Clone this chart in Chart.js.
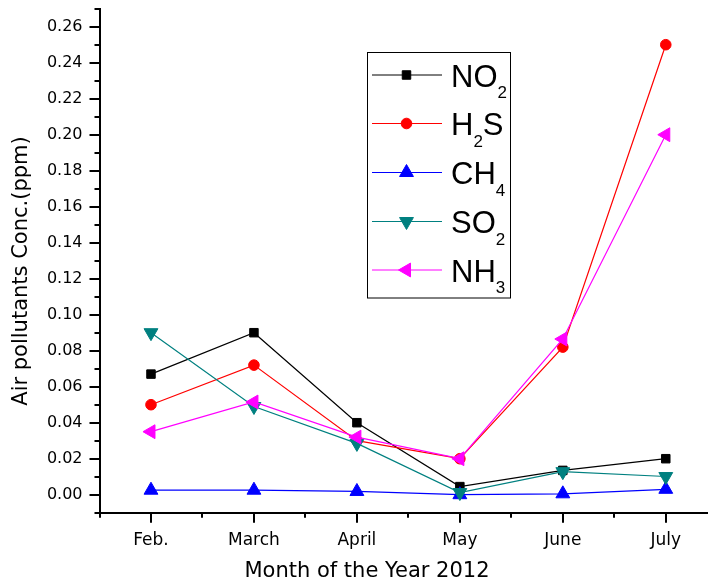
<!DOCTYPE html>
<html>
<head>
<meta charset="utf-8">
<script src="https://cdn.jsdelivr.net/npm/chart.js@4.4.0/dist/chart.umd.min.js"></script>
<style>
html,body{margin:0;padding:0;background:#fff;}
#wrap{width:708px;height:584px;position:relative;}
</style>
</head>
<body>
<div id="wrap"><canvas id="c"></canvas></div>
<script>
// ---- data ----
const months = ['Feb.', 'March', 'April', 'May', 'June', 'July'];
const seriesNames = ['NO2', 'H2S', 'CH4', 'SO2', 'NH3'];
const no2 = [0.067, 0.090, 0.040, 0.0045, 0.0135, 0.020];
const h2s = [0.050, 0.072, 0.030, 0.020, 0.082, 0.250];
const ch4 = [0.0025, 0.0025, 0.0018, 0.0, 0.0005, 0.003];
const so2 = [0.090, 0.049, 0.0285, 0.0012, 0.0128, 0.0101];
const nh3 = [0.035, 0.0515, 0.032, 0.020, 0.0865, 0.200];
const yMajorTicks = [0.00, 0.02, 0.04, 0.06, 0.08, 0.10, 0.12, 0.14, 0.16, 0.18, 0.20, 0.22, 0.24, 0.26];
const yMinorTicks = [-0.01, 0.01, 0.03, 0.05, 0.07, 0.09, 0.11, 0.13, 0.15, 0.17, 0.19, 0.21, 0.23, 0.25, 0.27];
const xMajorTicks = [0, 1, 2, 3, 4, 5];
const xMinorTicks = [-0.5, 0.5, 1.5, 2.5, 3.5, 4.5];
const xTitle = 'Month of the Year 2012';
const yTitle = 'Air pollutants Conc.(ppm)';

const toPts = arr => arr.map((v, i) => ({x: i, y: v}));

const styles = [
  {color: '#000000', pointStyle: 'rect', radius: 6, rotation: 0, order: 5},
  {color: '#ff0000', pointStyle: 'circle', radius: 5.3, rotation: 0, order: 4},
  {color: '#0000ff', pointStyle: 'triangle', radius: 8, rotation: 0, order: 3},
  {color: '#008080', pointStyle: 'triangle', radius: 8, rotation: 180, order: 2},
  {color: '#ff00ff', pointStyle: 'triangle', radius: 8, rotation: 270, order: 1}
];
const allSeries = [no2, h2s, ch4, so2, nh3];

const datasets = allSeries.map((arr, i) => ({
  label: seriesNames[i],
  data: toPts(arr),
  borderColor: styles[i].color,
  backgroundColor: styles[i].color,
  borderWidth: 1.2,
  pointStyle: styles[i].pointStyle,
  pointRadius: styles[i].radius,
  pointHoverRadius: styles[i].radius,
  pointRotation: styles[i].rotation,
  pointBorderWidth: 1,
  pointBackgroundColor: styles[i].color,
  pointBorderColor: styles[i].color,
  tension: 0,
  order: styles[i].order,
  clip: false
}));

Chart.defaults.font.family = "'DejaVu Sans', sans-serif";
Chart.defaults.color = '#000';

function drawSubText(ctx, text, x, baseline, mainSize, subSize, subOffset) {
  let cx = x;
  for (const ch of text) {
    const isSub = /[0-9]/.test(ch);
    ctx.font = (isSub ? subSize : mainSize) + "px 'Liberation Sans', Arial, sans-serif";
    ctx.fillText(ch, cx, baseline + (isSub ? subOffset : 0));
    cx += ctx.measureText(ch).width;
  }
}

const extrasPlugin = {
  id: 'extras',
  afterDraw(chart) {
    const ctx = chart.ctx;
    const xs = chart.scales.x, ys = chart.scales.y;
    const ca = chart.chartArea;
    ctx.save();
    // minor ticks
    ctx.strokeStyle = '#000';
    ctx.lineWidth = 2;
    ctx.beginPath();
    yMinorTicks.forEach(v => {
      const py = Math.round(ys.getPixelForValue(v));
      ctx.moveTo(ca.left - 5, py); ctx.lineTo(ca.left, py);
    });
    xMinorTicks.forEach(v => {
      const px = Math.round(xs.getPixelForValue(v));
      ctx.moveTo(px, ca.bottom); ctx.lineTo(px, ca.bottom + 5);
    });
    ctx.stroke();

    // axis titles
    ctx.fillStyle = '#000';
    ctx.font = "21px 'DejaVu Sans', sans-serif";
    ctx.textAlign = 'center';
    ctx.textBaseline = 'alphabetic';
    ctx.fillText(xTitle, 367, 577);
    ctx.save();
    ctx.translate(27, 271);
    ctx.rotate(-Math.PI / 2);
    ctx.fillText(yTitle, 0, 0);
    ctx.restore();

    // legend box
    const bx = 367.5, by = 52.5, bw = 143, bh = 245.5;
    ctx.fillStyle = '#fff';
    ctx.fillRect(bx, by, bw, bh);
    ctx.strokeStyle = '#000';
    ctx.lineWidth = 1;
    ctx.strokeRect(bx, by, bw, bh);
    const rowY = [75, 123.5, 172.5, 221.5, 270];
    chart.data.datasets.forEach((ds, i) => {
      const y = rowY[i];
      ctx.strokeStyle = ds.borderColor;
      ctx.lineWidth = 1;
      ctx.beginPath();
      ctx.moveTo(372, y); ctx.lineTo(442, y);
      ctx.stroke();
      ctx.fillStyle = ds.pointBackgroundColor;
      ctx.strokeStyle = ds.pointBorderColor;
      Chart.helpers.drawPoint(ctx, {
        pointStyle: ds.pointStyle,
        rotation: ds.pointRotation,
        radius: ds.pointRadius,
        borderWidth: 1
      }, 406.5, y);
      ctx.fillStyle = '#000';
      ctx.textAlign = 'left';
      ctx.textBaseline = 'alphabetic';
      drawSubText(ctx, ds.label, 451, y + 11.5, 31, 17, 11.5);
    });
    ctx.restore();
  }
};

new Chart(document.getElementById('c'), {
  type: 'line',
  data: {datasets},
  options: {
    responsive: true,
    maintainAspectRatio: false,
    animation: false,
    layout: {autoPadding: false, padding: {top: 8.7, right: 0, bottom: 0, left: 0}},
    plugins: {legend: {display: false}, tooltip: {enabled: false}},
    scales: {
      x: {
        type: 'linear',
        min: -0.5,
        max: 5.41,
        afterBuildTicks: s => { s.ticks = xMajorTicks.map(v => ({value: v})); },
        afterFit: s => { s.height = 71.3; s.paddingLeft = 0; s.paddingRight = 0; },
        ticks: {
          autoSkip: false, maxRotation: 0, minRotation: 0,
          padding: 8,
          font: {size: 17},
          color: '#000',
          callback: v => months[v]
        },
        grid: {drawOnChartArea: false, drawTicks: true, tickLength: 10, color: '#000', lineWidth: 2},
        border: {display: true, color: '#000', width: 2}
      },
      y: {
        type: 'linear',
        min: -0.01,
        max: 0.27,
        afterBuildTicks: s => { s.ticks = yMajorTicks.map(v => ({value: v})); },
        afterFit: s => { s.width = 99.5; s.paddingTop = 0; s.paddingBottom = 0; },
        ticks: {
          padding: 7,
          font: {size: 16},
          color: '#000',
          callback: v => Number(v).toFixed(2)
        },
        grid: {drawOnChartArea: false, drawTicks: true, tickLength: 10, color: '#000', lineWidth: 2},
        border: {display: true, color: '#000', width: 2}
      }
    }
  },
  plugins: [extrasPlugin]
});
</script>
</body>
</html>
